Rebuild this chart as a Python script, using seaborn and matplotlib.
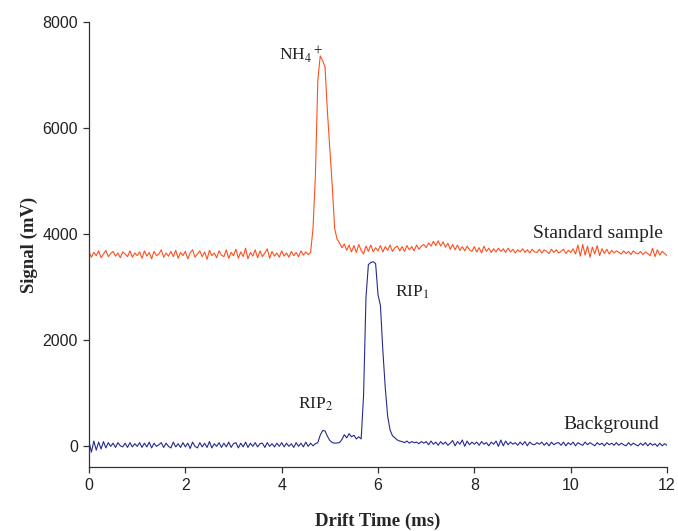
"""
Drift-time spectra: standard sample vs. background.
"""

import matplotlib.pyplot as plt
import numpy as np
import pandas as pd
import seaborn as sns

# drift time grid (ms), 0.05 ms step
drift_time = np.round(np.arange(0, 12.0001, 0.05), 2)

# standard sample signal (mV), one row per ms
standard_sample = [
    3660, 3560, 3650, 3590, 3680, 3550, 3620, 3690, 3570, 3630, 3670, 3580, 3640, 3550, 3660, 3620, 3570, 3680, 3560, 3640,
    3590, 3660, 3540, 3680, 3580, 3650, 3530, 3670, 3590, 3620, 3700, 3560, 3640, 3580, 3670, 3570, 3690, 3540, 3650, 3590,
    3670, 3530, 3640, 3700, 3560, 3620, 3680, 3570, 3660, 3520, 3690, 3590, 3640, 3550, 3680, 3600, 3570, 3700, 3540, 3650,
    3590, 3710, 3540, 3660, 3570, 3730, 3530, 3650, 3580, 3700, 3550, 3680, 3570, 3640, 3720, 3540, 3670, 3580, 3640, 3560,
    3680, 3580, 3640, 3560, 3670, 3590, 3650, 3570, 3680, 3600, 3660, 3610, 3650, 4100, 5100, 6900, 7360, 7270, 7150, 6300,
    5600, 4900, 4100, 3900, 3830, 3740, 3810, 3690, 3790, 3660, 3780, 3650, 3800, 3690, 3620, 3770, 3670, 3790, 3660, 3740,
    3680, 3780, 3660, 3760, 3690, 3790, 3670, 3740, 3770, 3680, 3760, 3670, 3780, 3700, 3760, 3680, 3790, 3710, 3770, 3800,
    3740, 3830, 3770, 3860, 3780, 3870, 3770, 3850, 3750, 3820, 3710, 3800, 3700, 3790, 3690, 3760, 3680, 3770, 3700, 3670,
    3760, 3660, 3740, 3640, 3770, 3670, 3730, 3650, 3720, 3660, 3730, 3670, 3720, 3650, 3730, 3660, 3710, 3640, 3700, 3660,
    3720, 3650, 3700, 3640, 3710, 3660, 3650, 3710, 3640, 3700, 3670, 3630, 3710, 3650, 3700, 3640, 3670, 3710, 3630, 3690,
    3650, 3720, 3620, 3790, 3580, 3800, 3600, 3770, 3560, 3750, 3620, 3780, 3590, 3720, 3630, 3710, 3620, 3690, 3640, 3680,
    3650, 3620, 3680, 3630, 3670, 3610, 3680, 3640, 3620, 3670, 3610, 3660, 3630, 3590, 3730, 3570, 3700, 3600, 3670, 3630,
    3590,
]

# background signal (mV)
background = [
    80, -120, 90, -80, 70, -60, 80, -40, 60, -10, 50, -30, 60, 0, -20, 50, -30, 60, -20, 40,
    -10, 60, -30, 50, -20, 70, -40, 50, -10, 20, 60, -30, 50, -10, -40, 70, -20, 40, -30, 60,
    -20, 50, -50, 70, -10, -40, 60, -20, 50, -30, 80, -40, 40, -10, 60, -30, 50, -20, 70, -30,
    40, 60, -40, 50, -20, 70, -30, 50, -10, 60, -20, 40, 50, -30, 60, -10, 40, -20, 50, -10,
    60, -20, 50, -10, 40, -30, 60, -10, 50, -20, 70, -10, 50, 0, 40, 60, 200, 290, 280, 180,
    100, 60, 50, 55, 60, 120, 210, 150, 230, 170, 200, 130, 170, 130, 950, 2800, 3420, 3460, 3475, 3440,
    2850, 2650, 1800, 1100, 560, 300, 190, 150, 110, 90, 80, 60, 90, 50, 80, 60, 70, 40, 80, 50,
    80, 20, 90, 30, 70, 10, 80, 30, 70, 10, 50, 100, 0, 80, 30, 110, -10, 90, 20, 70,
    30, 70, 10, 80, 30, 60, 0, 70, 30, 90, -10, 110, 0, 90, 20, 70, 30, 60, 10, 70,
    20, 80, 0, 70, 30, 20, 60, 30, 70, 10, 60, 0, 70, 20, 50, 60, 10, 70, 0, 60,
    20, 70, 0, 60, 30, 10, 70, 20, 60, 30, 0, 60, 20, 50, 0, 60, 20, 50, 10, 60,
    10, 50, 20, 0, 60, 10, 50, 20, 0, 50, 10, 60, 0, 50, 10, 40, -10, 50, 0, 40,
    10,
]

x_ticks = [0, 2, 4, 6, 8, 10, 12]
y_ticks = [0, 2000, 4000, 6000, 8000]

ORANGE = "#FF4F1F"
NAVY = "#232C8E"


def main():
    sns.set_style("ticks")
    plt.rcParams["font.family"] = ["Liberation Serif", "DejaVu Serif"]
    plt.rcParams["mathtext.fontset"] = "stix"

    df = pd.DataFrame({"t": drift_time, "std": standard_sample, "bg": background})

    fig = plt.figure(figsize=(6.78, 5.31), dpi=100)
    ax = fig.add_axes([0.1313, 0.1205, 0.8525, 0.8381])

    sns.lineplot(data=df, x="t", y="std", color=ORANGE, lw=0.8, ax=ax)
    sns.lineplot(data=df, x="t", y="bg", color=NAVY, lw=0.8, ax=ax)

    ax.set_xlim(0, 12)
    ax.set_ylim(-400, 8000)
    ax.set_xticks(x_ticks)
    ax.set_yticks(y_ticks)
    sns.despine(ax=ax)
    for sp in ("left", "bottom"):
        ax.spines[sp].set_color("#333333")
        ax.spines[sp].set_linewidth(0.9)
    ax.tick_params(direction="out", length=4.5, width=0.9, color="#333333",
                   labelsize=11.5, labelcolor="#222222")
    for lab in ax.get_xticklabels() + ax.get_yticklabels():
        lab.set_fontfamily(["Liberation Sans", "DejaVu Sans"])

    ax.set_xlabel("Drift Time (ms)", fontsize=13.5, fontweight="bold", labelpad=14)
    ax.set_ylabel("Signal (mV)", fontsize=13.5, fontweight="bold", labelpad=3)

    txt = dict(color="#222222", fontsize=12.5)
    ax.text(3.95, 7283, r"NH$_4{}^+$", ha="left", va="baseline", **txt)
    ax.text(6.35, 2817, r"RIP$_1$", ha="left", va="baseline", **txt)
    ax.text(4.345, 711, r"RIP$_2$", ha="left", va="baseline", **txt)
    ax.text(11.92, 3918, "Standard sample", ha="right", va="baseline",
            color="#222222", fontsize=14)
    ax.text(11.84, 315, "Background", ha="right", va="baseline",
            color="#222222", fontsize=14)

    fig.savefig("out.png", dpi=100)
    plt.close(fig)


if __name__ == "__main__":
    main()
